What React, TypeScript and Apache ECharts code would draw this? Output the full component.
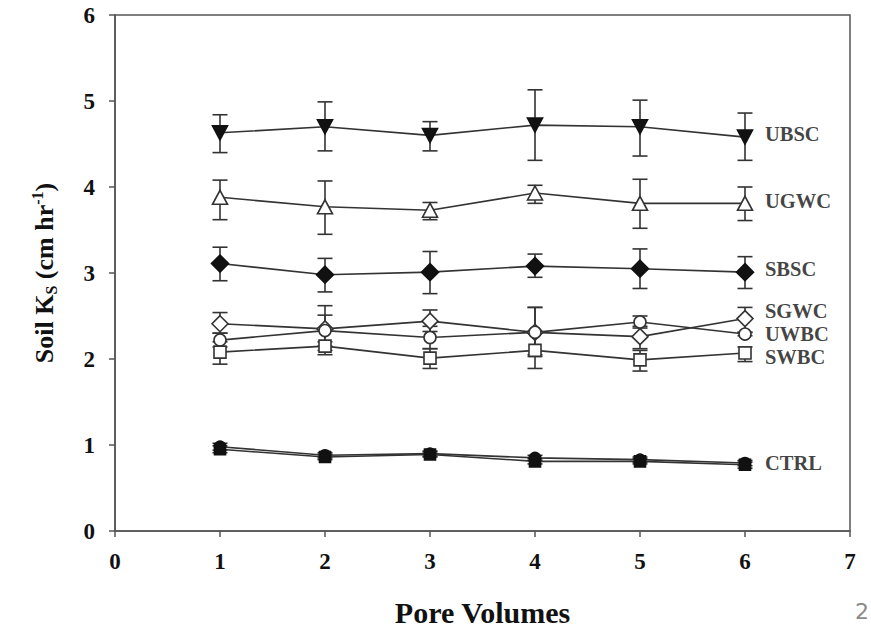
import React, { useEffect, useRef } from "react";
import * as echarts from "echarts";

const poreVolumes = [1, 2, 3, 4, 5, 6];

const ubscMean = [4.63, 4.7, 4.6, 4.72, 4.7, 4.58];
const ubscHigh = [4.84, 4.99, 4.76, 5.13, 5.01, 4.86];
const ubscLow = [4.4, 4.42, 4.42, 4.31, 4.36, 4.31];

const ugwcMean = [3.88, 3.77, 3.73, 3.93, 3.81, 3.81];
const ugwcHigh = [4.08, 4.07, 3.82, 4.02, 4.09, 4.0];
const ugwcLow = [3.62, 3.45, 3.62, 3.81, 3.52, 3.61];

const sbscMean = [3.11, 2.98, 3.01, 3.08, 3.05, 3.01];
const sbscHigh = [3.3, 3.17, 3.25, 3.22, 3.28, 3.19];
const sbscLow = [2.91, 2.78, 2.76, 2.95, 2.82, 2.82];

const sgwcMean = [2.41, 2.35, 2.44, 2.31, 2.26, 2.47];
const sgwcHigh = [2.54, 2.62, 2.57, 2.6, 2.38, 2.6];
const sgwcLow = [2.3, 2.1, 2.32, 2.05, 2.12, 2.31];

const uwbcMean = [2.22, 2.33, 2.25, 2.31, 2.43, 2.29];
const uwbcHigh = [2.3, 2.51, 2.38, 2.6, 2.5, 2.31];
const uwbcLow = [2.14, 2.15, 2.12, 2.03, 2.36, 2.27];

const swbcMean = [2.08, 2.15, 2.01, 2.1, 1.99, 2.07];
const swbcHigh = [2.2, 2.2, 2.12, 2.3, 2.1, 2.14];
const swbcLow = [1.94, 2.05, 1.89, 1.89, 1.86, 1.97];

const ctrlAMean = [0.98, 0.88, 0.9, 0.85, 0.83, 0.79];
const ctrlAHigh = [1.02, 0.91, 0.93, 0.88, 0.86, 0.82];
const ctrlALow = [0.94, 0.85, 0.87, 0.82, 0.8, 0.76];

const ctrlBMean = [0.95, 0.86, 0.89, 0.81, 0.81, 0.77];
const ctrlBHigh = [0.99, 0.89, 0.92, 0.84, 0.84, 0.8];
const ctrlBLow = [0.91, 0.83, 0.86, 0.78, 0.78, 0.73];

const labelNames = ["UBSC", "UGWC", "SBSC", "SGWC", "UWBC", "SWBC", "CTRL"];
const labelY = [4.62, 3.84, 3.05, 2.56, 2.29, 2.02, 0.79];
const labelX = 6.19;

const xTicks = [0, 1, 2, 3, 4, 5, 6, 7];
const yTicks = [0, 1, 2, 3, 4, 5, 6];

const FONT = "'Liberation Serif', 'Times New Roman', serif";
const LINE = "#333333";
const INK = "#111111";

type Def = {
  name: string;
  mean: number[];
  high: number[];
  low: number[];
  symbol: string;
  rotate: number;
  filled: boolean;
  size: number | number[];
};

const defs: Def[] = [
  { name: "UBSC", mean: ubscMean, high: ubscHigh, low: ubscLow, symbol: "triangle", rotate: 180, filled: true, size: [15, 14] },
  { name: "UGWC", mean: ugwcMean, high: ugwcHigh, low: ugwcLow, symbol: "triangle", rotate: 0, filled: false, size: [15, 14] },
  { name: "SBSC", mean: sbscMean, high: sbscHigh, low: sbscLow, symbol: "diamond", rotate: 0, filled: true, size: 17 },
  { name: "SGWC", mean: sgwcMean, high: sgwcHigh, low: sgwcLow, symbol: "diamond", rotate: 0, filled: false, size: 16 },
  { name: "UWBC", mean: uwbcMean, high: uwbcHigh, low: uwbcLow, symbol: "circle", rotate: 0, filled: false, size: 12 },
  { name: "SWBC", mean: swbcMean, high: swbcHigh, low: swbcLow, symbol: "rect", rotate: 0, filled: false, size: 12 },
  { name: "CTRL-A", mean: ctrlAMean, high: ctrlAHigh, low: ctrlALow, symbol: "circle", rotate: 0, filled: true, size: 11 },
  { name: "CTRL-B", mean: ctrlBMean, high: ctrlBHigh, low: ctrlBLow, symbol: "rect", rotate: 0, filled: true, size: 11 },
];

export default function App() {
  const ref = useRef<HTMLDivElement>(null);

  useEffect(() => {
    if (!ref.current) return;
    const chart = echarts.init(ref.current, null, { renderer: "svg" });

    const errorSeries = defs.map((d) => ({
      type: "custom",
      name: d.name + "-err",
      z: 2,
      data: poreVolumes.map((x, i) => [x, d.low[i], d.high[i]]),
      encode: { x: 0, y: [1, 2] },
      renderItem: (params: any, api: any) => {
        const x = api.value(0);
        const lo = api.coord([x, api.value(1)]);
        const hi = api.coord([x, api.value(2)]);
        const hw = 7.5;
        const style = { stroke: LINE, lineWidth: 1.6 };
        return {
          type: "group",
          children: [
            { type: "line", shape: { x1: lo[0], y1: lo[1], x2: hi[0], y2: hi[1] }, style },
            { type: "line", shape: { x1: lo[0] - hw, y1: lo[1], x2: lo[0] + hw, y2: lo[1] }, style },
            { type: "line", shape: { x1: hi[0] - hw, y1: hi[1], x2: hi[0] + hw, y2: hi[1] }, style },
          ],
        };
      },
    }));

    const lineSeries = defs.map((d) => ({
      type: "line",
      name: d.name,
      z: 3,
      data: poreVolumes.map((x, i) => [x, d.mean[i]]),
      symbol: d.symbol,
      symbolSize: d.size,
      symbolRotate: d.rotate,
      showAllSymbol: true,
      lineStyle: { color: LINE, width: 1.6 },
      itemStyle: {
        color: d.filled ? INK : "#ffffff",
        borderColor: d.filled ? INK : LINE,
        borderWidth: 1.6,
      },
    }));

    const labelSeries = {
      type: "scatter",
      name: "labels",
      z: 5,
      symbolSize: 0,
      data: labelNames.map((n, i) => [labelX, labelY[i], n]),
      label: {
        show: true,
        position: "right",
        distance: 0,
        formatter: (p: any) => p.value[2],
        fontFamily: FONT,
        fontWeight: "bold",
        fontSize: 20.5,
        color: INK,
      },
    };

    chart.setOption({
      animation: false,
      backgroundColor: "#ffffff",
      grid: {
        left: 115,
        right: 21,
        top: 15,
        bottom: 101,
        show: true,
        borderColor: "#555555",
        borderWidth: 1.5,
        backgroundColor: "transparent",
      },
      xAxis: {
        type: "value",
        min: xTicks[0],
        max: xTicks[xTicks.length - 1],
        interval: 1,
        splitLine: { show: false },
        axisLine: { show: true, onZero: false, lineStyle: { color: "#555555", width: 1.5 } },
        axisTick: { show: true, inside: false, length: 6, lineStyle: { color: "#555555", width: 1.5 } },
        axisLabel: {
          margin: 19,
          fontFamily: FONT,
          fontWeight: "bold",
          fontSize: 23,
          color: INK,
        },
        name: "Pore Volumes",
        nameLocation: "middle",
        nameGap: 66,
        nameTextStyle: { fontFamily: FONT, fontWeight: "bold", fontSize: 30, color: INK },
      },
      yAxis: {
        type: "value",
        min: yTicks[0],
        max: yTicks[yTicks.length - 1],
        interval: 1,
        splitLine: { show: false },
        axisLine: { show: true, onZero: false, lineStyle: { color: "#555555", width: 1.5 } },
        axisTick: { show: true, inside: false, length: 6, lineStyle: { color: "#555555", width: 1.5 } },
        axisLabel: {
          margin: 20,
          fontFamily: FONT,
          fontWeight: "bold",
          fontSize: 23,
          color: INK,
        },
        name: "{a|Soil K}{sub|S}{a| (cm hr}{sup|-1}{a|)}",
        nameLocation: "middle",
        nameRotate: 90,
        nameGap: 53,
        nameTextStyle: {
          fontFamily: FONT,
          fontWeight: "bold",
          fontSize: 26,
          color: INK,
          rich: {
            a: { fontFamily: FONT, fontWeight: "bold", fontSize: 26, color: INK, lineHeight: 36, verticalAlign: "middle" },
            sub: { fontFamily: FONT, fontWeight: "bold", fontSize: 16, color: INK, lineHeight: 36, verticalAlign: "bottom", padding: [0, 0, 3, 0] },
            sup: { fontFamily: FONT, fontWeight: "bold", fontSize: 16, color: INK, lineHeight: 36, verticalAlign: "top", padding: [3, 0, 0, 0] },
          },
        },
      },
      graphic: [
        {
          type: "text",
          left: 855,
          top: 600,
          style: { text: "2", fontFamily: "'DejaVu Sans', sans-serif", fontSize: 22, fill: "#8a8a8a" },
        },
      ],
      series: [...errorSeries, ...lineSeries, labelSeries],
    });

    return () => chart.dispose();
  }, []);

  return (
    <div
      ref={ref}
      style={{ position: "absolute", left: 0, top: 0, width: 871, height: 632, background: "#fff" }}
    />
  );
}
